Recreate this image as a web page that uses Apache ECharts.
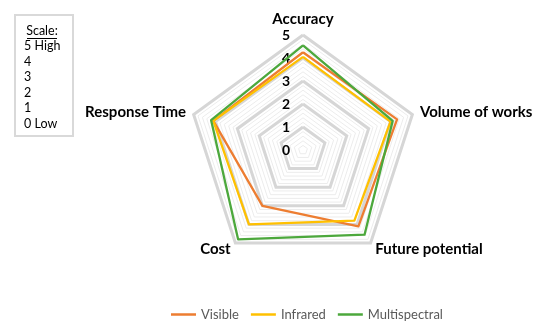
<!DOCTYPE html>
<html>
<head>
<meta charset="utf-8">
<script src="https://cdn.jsdelivr.net/npm/echarts@6/dist/echarts.min.js"></script>
<style>html,body{margin:0;padding:0;background:#fff}#c{width:550px;height:325px}</style>
</head>
<body>
<div id="c"></div>
<script>
// indicator order runs counter-clockwise from the top (ECharts radar order)
const indicators = ['Accuracy', 'Response Time', 'Cost', 'Future potential', 'Volume of works'];
const seriesNames = ['Visible', 'Infrared', 'Multispectral'];
const visible = [4.25, 4.1, 3.0, 4.1, 4.3];
const infrared = [4.05, 4.1, 4.0, 3.8, 4.0];
const multispectral = [4.55, 4.2, 4.8, 4.55, 4.1];
const colors = ['#ED7D31', '#FFC000', '#4CA83C'];
const scaleLines = ['5 High', '4', '3', '2', '1', '0 Low'];
const scaleMax = 5;

const chart = echarts.init(document.getElementById('c'), null, {renderer: 'canvas'});
const font = 'Lato, "Noto Sans", sans-serif';

const ind = indicators.map((n, i) => {
  const o = {name: n, min: 0, max: scaleMax};
  if (i !== 0) o.axisLabel = {show: false};
  return o;
});
const indThin = indicators.map(n => ({name: n, min: 0, max: scaleMax}));

const graphicEls = [
  {type: 'rect', shape: {x: 15, y: 15, width: 58, height: 121},
   style: {fill: '#fff', stroke: '#d9d9d9', lineWidth: 2}},
  {type: 'text', x: 42, y: 31, style: {text: 'Scale:', font: '12.5px ' + font, fill: '#000', align: 'center', verticalAlign: 'middle'}},
  {type: 'line', shape: {x1: 27, y1: 38.5, x2: 57, y2: 38.5}, style: {stroke: '#000', lineWidth: 1}}
];
scaleLines.forEach((t, i) => {
  graphicEls.push({type: 'text', x: 24, y: 46 + i * 15.6,
    style: {text: t, font: '12.5px ' + font, fill: '#000', align: 'left', verticalAlign: 'middle'}});
});

const series = [visible, infrared, multispectral].map((d, i) => ({
  type: 'radar', radarIndex: 0, name: seriesNames[i], symbol: 'none', z: 3,
  lineStyle: {color: colors[i], width: 2.3},
  itemStyle: {color: colors[i]},
  data: [{value: d, name: seriesNames[i]}]
}));

chart.setOption({
  animation: false,
  color: colors,
  graphic: graphicEls,
  legend: {
    data: seriesNames, top: 303, left: 166, icon: 'rect', itemWidth: 25, itemHeight: 2.5,
    itemGap: 12, textStyle: {color: '#595959', fontSize: 13, fontFamily: font}
  },
  radar: [
    {
      center: [303, 150], radius: 115, startAngle: 90, shape: 'polygon', splitNumber: 5,
      indicator: ind, z: 2,
      axisName: {color: '#000', fontSize: 15, fontWeight: 'bold', fontFamily: font},
      nameGap: 8,
      axisLine: {show: false}, axisTick: {show: false},
      axisLabel: {show: true, color: '#000', fontSize: 14, fontWeight: 'bold', fontFamily: font, margin: 13},
      splitLine: {lineStyle: {color: '#d6d6d6', width: 3}},
      splitArea: {show: false}
    },
    {
      center: [303, 150], radius: 115, startAngle: 90, shape: 'polygon', splitNumber: 25,
      indicator: indThin, z: 1,
      axisName: {show: false},
      axisLine: {show: false}, axisTick: {show: false}, axisLabel: {show: false},
      splitLine: {lineStyle: {color: '#ececec', width: 1}},
      splitArea: {show: false}
    }
  ],
  series: series
});
</script>
</body>
</html>
